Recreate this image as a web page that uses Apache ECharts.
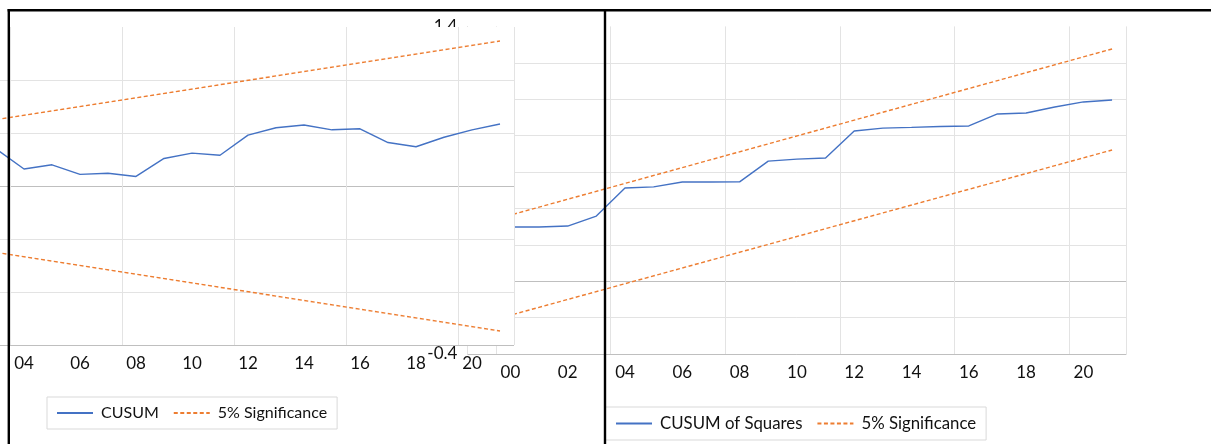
<!DOCTYPE html>
<html><head><meta charset="utf-8">
<script src="https://cdn.jsdelivr.net/npm/echarts@6/dist/echarts.min.js"></script>
<style>html,body{margin:0;padding:0;background:#fff;overflow:hidden}#c{position:absolute;left:-18px;top:0;width:1229px;height:444px}</style>
</head><body><div id="c"></div>
<script>
// ---- Left chart: CUSUM ----
const cusumYears = ['2003','2004','2005','2006','2007','2008','2009','2010','2011','2012','2013','2014','2015','2016','2017','2018','2019','2020','2021'];
const cusumValues = [3.5,1.6,2.0,1.1,1.2,0.9,2.6,3.1,2.9,4.8,5.5,5.75,5.3,5.4,4.1,3.7,4.6,5.3,5.85];
const cusumUpper = [['2003',6.26],['2021',13.68]];
const cusumLower = [['2003',-6.26],['2021',-13.68]];

// ---- Right chart: CUSUM of Squares ----
const sqYears = ['1999','2000','2001','2002','2003','2004','2005','2006','2007','2008','2009','2010','2011','2012','2013','2014','2015','2016','2017','2018','2019','2020','2021'];
const sqValues = [0.28,0.298,0.298,0.303,0.358,0.512,0.518,0.545,0.545,0.546,0.660,0.671,0.677,0.825,0.841,0.845,0.85,0.853,0.919,0.924,0.957,0.985,0.996];
const sqUpper = [['1999',0.32],['2021',1.276]];
const sqLower = [['1999',-0.23],['2021',0.721]];

const FONT = 'Lato';
const TXT = '#111';
const GRID = '#E3E3E3';
const AX = '#BFBFBF';
const BLUE = '#4472C4';
const ORANGE = '#ED7D31';
const OFF = 18; // the chart canvas is shifted 18px left of the page

const chart = echarts.init(document.getElementById('c'), null, {renderer:'canvas'});
chart.setOption({
  animation:false,
  backgroundColor:'#fff',
  textStyle:{fontFamily:FONT},
  grid:[
    {left:0, top:27, width:532, height:318, show:true, backgroundColor:'#fff', borderWidth:0, z:5},
    {left:467.4+OFF, top:26.4, width:659, height:327.6, show:false}
  ],
  xAxis:[
    {type:'category', gridIndex:0, data:cusumYears, boundaryGap:true, z:6,
     axisLine:{show:false, onZero:false}, axisTick:{show:false},
     axisLabel:{interval:(i)=>i%2===1, formatter:(v)=>v.slice(2), fontSize:17, color:TXT, margin:10, fontFamily:FONT},
     splitLine:{show:true, interval:(i)=>i%4===1, lineStyle:{color:GRID, width:1}}},
    {type:'category', gridIndex:1, data:sqYears, boundaryGap:true,
     axisLine:{show:false, onZero:false}, axisTick:{show:false},
     axisLabel:{interval:(i)=>i%2===1, formatter:(v)=>v.slice(2), fontSize:17, color:TXT, margin:10, fontFamily:FONT},
     splitLine:{show:true, interval:(i)=>i%4===1, lineStyle:{color:GRID, width:1}}}
  ],
  yAxis:[
    {type:'value', gridIndex:0, min:-15, max:15, interval:5, z:6,
     axisLine:{show:false}, axisTick:{show:false}, axisLabel:{show:false},
     splitLine:{show:true, showMinLine:true, showMaxLine:false,
       lineStyle:{color:[AX,GRID,GRID,AX,GRID,GRID], width:1}}},
    {type:'value', gridIndex:1, min:-0.4, max:1.4, interval:0.2,
     axisLine:{show:true, lineStyle:{color:GRID}}, axisTick:{show:false},
     axisLabel:{formatter:(v)=>v.toFixed(1), fontSize:17, color:TXT, margin:10, fontFamily:FONT},
     splitLine:{show:true, showMinLine:true, showMaxLine:false,
       lineStyle:{color:[AX,GRID,AX,GRID,GRID,GRID,GRID,GRID,GRID], width:1}}}
  ],
  legend:[
    {left:47+OFF, top:397, orient:'horizontal', padding:[8,10,8,9], itemGap:14, itemWidth:36, itemHeight:14,
     borderColor:'#D9D9D9', borderWidth:1, backgroundColor:'#fff', borderRadius:0,
     itemStyle:{opacity:0},
     textStyle:{fontSize:16, color:TXT, fontFamily:FONT, padding:[0,0,0,3]},
     data:['CUSUM','5% Significance']},
    {left:605+OFF, top:407, orient:'horizontal', padding:[8,10,8,10], itemGap:14, itemWidth:36, itemHeight:14,
     borderColor:'#D9D9D9', borderWidth:1, backgroundColor:'#fff', borderRadius:0,
     itemStyle:{opacity:0},
     textStyle:{fontSize:16.8, color:TXT, fontFamily:FONT, padding:[0,0,0,3]},
     data:['CUSUM of Squares','5% Significance']}
  ],
  series:[
    {name:'CUSUM', type:'line', xAxisIndex:0, yAxisIndex:0, z:7, data:cusumValues, symbol:'none',
     lineStyle:{color:BLUE, width:1.4}, itemStyle:{color:BLUE}},
    {name:'5% Significance', type:'line', xAxisIndex:0, yAxisIndex:0, z:7, data:cusumUpper, symbol:'none',
     lineStyle:{color:ORANGE, width:1.4, type:[4,2.5]}, itemStyle:{color:ORANGE}},
    {name:'5% Significance', type:'line', xAxisIndex:0, yAxisIndex:0, z:7, data:cusumLower, symbol:'none',
     lineStyle:{color:ORANGE, width:1.4, type:[4,2.5]}, itemStyle:{color:ORANGE}},
    {name:'CUSUM of Squares', type:'line', xAxisIndex:1, yAxisIndex:1, data:sqValues, symbol:'none',
     lineStyle:{color:BLUE, width:1.4}, itemStyle:{color:BLUE}},
    {name:'5% Significance', type:'line', xAxisIndex:1, yAxisIndex:1, data:sqUpper, symbol:'none',
     lineStyle:{color:ORANGE, width:1.4, type:[4,2.5]}, itemStyle:{color:ORANGE}},
    {name:'5% Significance', type:'line', xAxisIndex:1, yAxisIndex:1, data:sqLower, symbol:'none',
     lineStyle:{color:ORANGE, width:1.4, type:[4,2.5]}, itemStyle:{color:ORANGE}}
  ],
  graphic:[
    {type:'line', z:100, shape:{x1:7.6+OFF, y1:10.2, x2:1211+OFF, y2:10.2}, style:{stroke:'#000', lineWidth:2.4}},
    {type:'line', z:100, shape:{x1:8.8+OFF, y1:9, x2:8.8+OFF, y2:444}, style:{stroke:'#000', lineWidth:2.4}},
    {type:'line', z:100, shape:{x1:605+OFF, y1:9, x2:605+OFF, y2:444}, style:{stroke:'#000', lineWidth:2.4}}
  ]
});
</script></body></html>
